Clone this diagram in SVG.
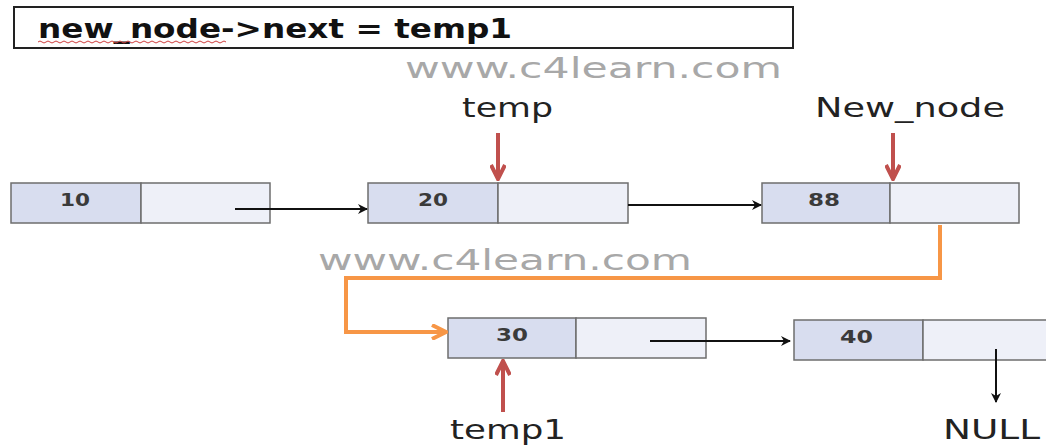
<svg xmlns="http://www.w3.org/2000/svg" width="1046" height="446" viewBox="0 0 1046 446">
<style>
.lf{fill:#d8ddef;stroke:#6e6e6e;stroke-width:1.5}
.rt{fill:#eef0f8;stroke:#6e6e6e;stroke-width:1.5}
.num{font-family:"DejaVu Sans",sans-serif;font-size:18px;fill:#3a3a3a;font-weight:bold}
.lbl{font-family:"DejaVu Sans",sans-serif;font-size:27px;fill:#222}
.wm{font-family:"DejaVu Sans",sans-serif;font-size:28px;fill:#a8a8a8}
.blk{stroke:#111;stroke-width:2;fill:none}
.red{stroke:#c0504d;stroke-width:4;fill:none}
.org{stroke:#f79646;stroke-width:4;fill:none}
</style>
<defs>
<marker id="ab" markerWidth="10" markerHeight="10" refX="9" refY="5" orient="auto" markerUnits="userSpaceOnUse"><path d="M0,0 L10,5 L0,10 L3,5 Z" fill="#111"/></marker>
<marker id="ar" markerWidth="18" markerHeight="16" refX="16" refY="8" orient="auto" markerUnits="userSpaceOnUse"><path d="M2,1 L16,8 L2,15" fill="none" stroke="#c0504d" stroke-width="4"/></marker>
<marker id="ao" markerWidth="18" markerHeight="16" refX="16" refY="8" orient="auto" markerUnits="userSpaceOnUse"><path d="M2,1 L16,8 L2,15" fill="none" stroke="#f79646" stroke-width="4"/></marker>
</defs>
<rect width="1046" height="446" fill="#fff"/>
<g id="header">
<rect x="14" y="7" width="779" height="41" fill="#fff" stroke="#222" stroke-width="2"/>
<text x="38" y="38" font-family="'DejaVu Sans',sans-serif" font-size="26" font-weight="bold" fill="#111" textLength="474" lengthAdjust="spacingAndGlyphs">new_node-&gt;next = temp1</text>
<path d="M38,42 q2,-2 4,0 t4,0 t4,0 t4,0 t4,0 t4,0 t4,0 t4,0 t4,0 t4,0 t4,0 t4,0 t4,0 t4,0 t4,0 t4,0 t4,0 t4,0 t4,0 t4,0 t4,0 t4,0 t4,0 t4,0 t4,0 t4,0 t4,0 t4,0 t4,0 t4,0 t4,0 t4,0 t4,0 t4,0 t4,0 t4,0 t4,0 t4,0 t4,0 t4,0 t4,0 t4,0 t4,0 t4,0 t4,0 t4,0 t4,0" fill="none" stroke="#d04040" stroke-width="1"/>
</g>
<text class="wm" x="405" y="78" textLength="377" lengthAdjust="spacingAndGlyphs">www.c4learn.com</text>
<text class="wm" x="318" y="270" textLength="374" lengthAdjust="spacingAndGlyphs">www.c4learn.com</text>
<g id="n10"><rect class="lf" x="11" y="183" width="130" height="40"/><rect class="rt" x="141" y="183" width="129" height="40"/><text class="num" x="60" y="206" textLength="30" lengthAdjust="spacingAndGlyphs">10</text></g>
<g id="n20"><rect class="lf" x="368" y="183" width="130" height="40"/><rect class="rt" x="498" y="183" width="130" height="40"/><text class="num" x="418" y="206" textLength="30" lengthAdjust="spacingAndGlyphs">20</text></g>
<g id="n88"><rect class="lf" x="762" y="183" width="128" height="40"/><rect class="rt" x="890" y="183" width="129" height="40"/><text class="num" x="808" y="206" textLength="32" lengthAdjust="spacingAndGlyphs">88</text></g>
<g id="n30"><rect class="lf" x="448" y="318" width="128" height="40"/><rect class="rt" x="576" y="318" width="130" height="40"/><text class="num" x="496" y="341" textLength="32" lengthAdjust="spacingAndGlyphs">30</text></g>
<g id="n40"><rect class="lf" x="794" y="320" width="129" height="40"/><rect class="rt" x="923" y="320" width="130" height="40"/><text class="num" x="840" y="343" textLength="33" lengthAdjust="spacingAndGlyphs">40</text></g>
<g id="lbl-temp"><text class="lbl" x="462" y="117" textLength="91" lengthAdjust="spacingAndGlyphs">temp</text></g>
<g id="lbl-newnode"><text class="lbl" x="815" y="117" textLength="190" lengthAdjust="spacingAndGlyphs">New_node</text></g>
<g id="lbl-temp1"><text class="lbl" x="450" y="439" textLength="116" lengthAdjust="spacingAndGlyphs">temp1</text></g>
<g id="lbl-null"><text class="lbl" x="943" y="439" textLength="97" lengthAdjust="spacingAndGlyphs">NULL</text></g>
<g id="connectors">
<line class="blk" x1="235" y1="209" x2="367" y2="209" marker-end="url(#ab)"/>
<line class="blk" x1="628" y1="205" x2="761" y2="205" marker-end="url(#ab)"/>
<line class="blk" x1="650" y1="341" x2="790" y2="341" marker-end="url(#ab)"/>
<line class="blk" x1="996" y1="349" x2="996" y2="402" marker-end="url(#ab)"/>
<line class="red" x1="498" y1="133" x2="498" y2="179" marker-end="url(#ar)"/>
<line class="red" x1="893" y1="133" x2="893" y2="179" marker-end="url(#ar)"/>
<line class="red" x1="503" y1="412" x2="503" y2="361" marker-end="url(#ar)"/>
<path class="org" d="M940,225 V278 H346 V332 H446" marker-end="url(#ao)"/>
</g>
</svg>
